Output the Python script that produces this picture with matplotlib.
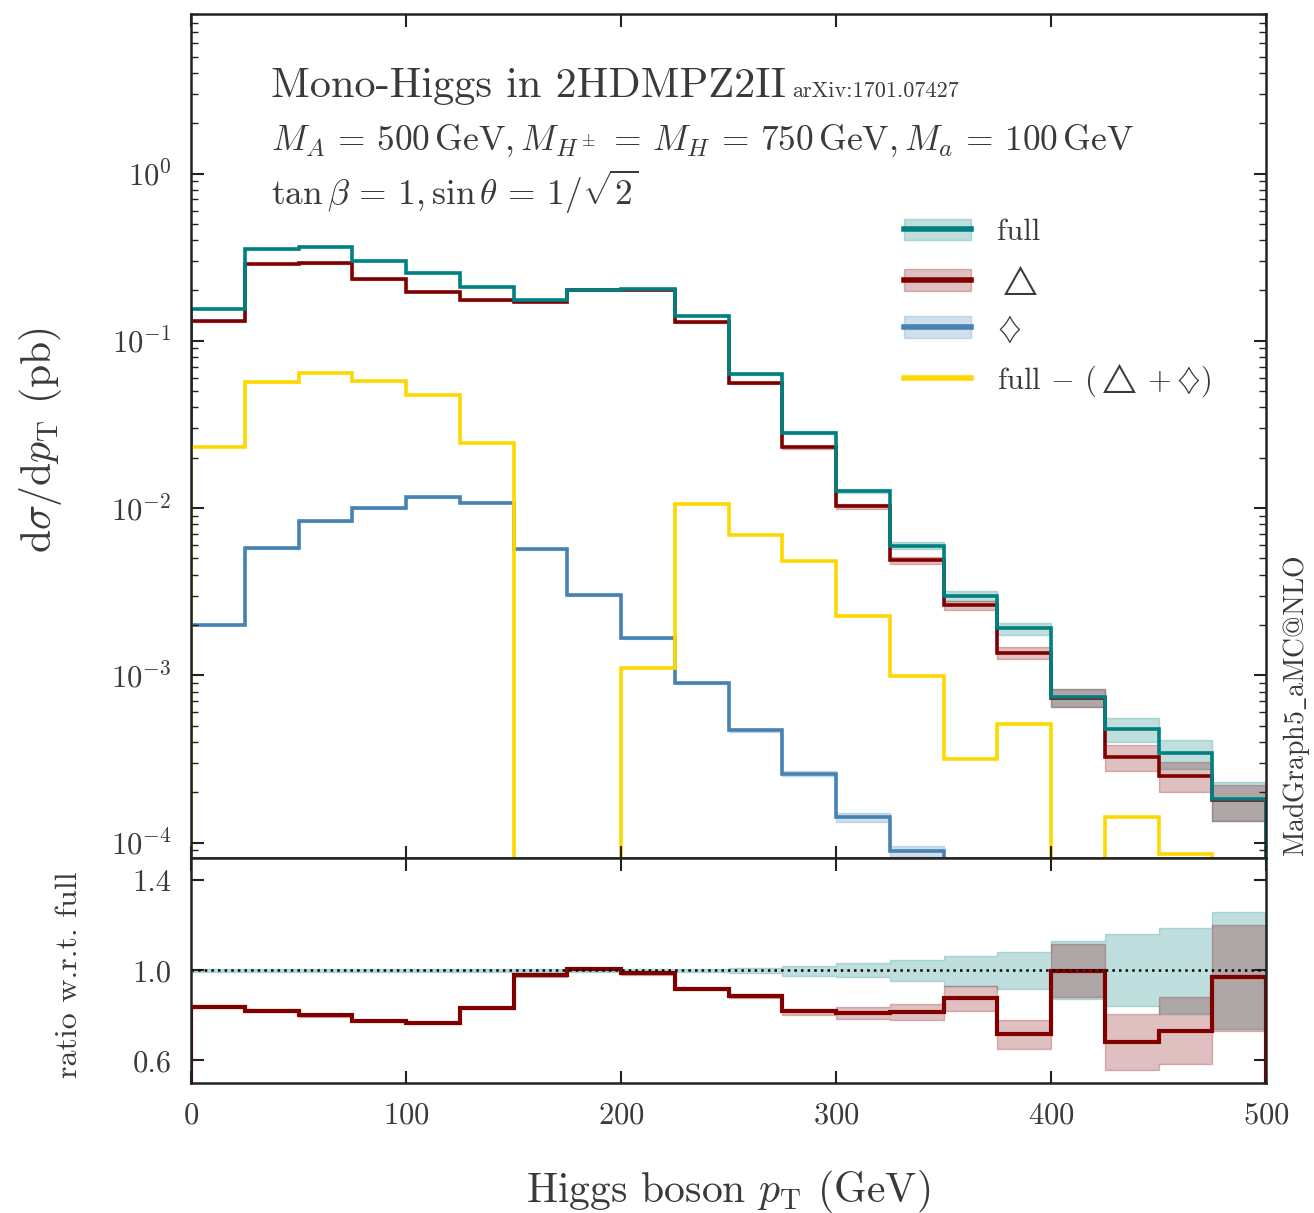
import numpy as np
import matplotlib
matplotlib.use('Agg')
import matplotlib.pyplot as plt
from matplotlib.patches import Patch
from matplotlib.lines import Line2D

# bin edges (GeV)
edges = np.arange(0, 525, 25)

# d sigma / d pT (pb)
full = [0.156, 0.352, 0.365, 0.302, 0.256, 0.210, 0.176, 0.201, 0.204, 0.141,
        0.063, 0.0283, 0.01265, 0.00597, 0.00299, 0.00191, 0.000738, 0.000479, 0.000344, 0.000183]
delta = [0.131, 0.288, 0.291, 0.234, 0.197, 0.176, 0.171, 0.201, 0.201, 0.130,
         0.0557, 0.0233, 0.01028, 0.00487, 0.00265, 0.00136, 0.000735, 0.000325, 0.000252, 0.000179]
diamond = [0.00201, 0.00575, 0.0084, 0.0100, 0.0116, 0.0108, 0.00567, 0.00302, 0.00168, 0.000903,
           0.00047, 0.000258, 0.000142, 8.87e-5, 5.5e-5, 3.5e-5, 2.0e-5, 1.3e-5, 8e-6, 5e-6]
# full - (delta + diamond); nan = not positive
rest = [0.0231, 0.057, 0.0643, 0.0573, 0.0474, 0.0245, np.nan, np.nan, 0.00111, 0.0106,
        0.00692, 0.00483, 0.00225, 0.000995, 0.000316, 0.000511, np.nan, 0.000142, 8.5e-5, np.nan]

# relative scale uncertainty of the diamond curve
diamond_unc = [0.01, 0.01, 0.01, 0.01, 0.01, 0.01, 0.01, 0.012, 0.012, 0.015,
               0.02, 0.035, 0.065, 0.08, 0.1, 0.1, 0.1, 0.1, 0.1, 0.1]

# ratio panel (w.r.t. full)
full_hi = [1.006, 1.005, 1.005, 1.005, 1.006, 1.006, 1.006, 1.006, 1.005, 1.006,
           1.013, 1.022, 1.031, 1.046, 1.064, 1.080, 1.130, 1.160, 1.190, 1.260]
full_lo = [0.994, 0.995, 0.995, 0.995, 0.994, 0.994, 0.994, 0.994, 0.995, 0.994,
           0.990, 0.976, 0.969, 0.954, 0.932, 0.919, 0.871, 0.840, 0.806, 0.740]
ratio_delta = [0.839, 0.821, 0.800, 0.775, 0.767, 0.833, 0.979, 1.006, 0.987, 0.917,
               0.887, 0.818, 0.810, 0.816, 0.876, 0.716, 0.997, 0.681, 0.732, 0.969]
delta_hi = [0.845, 0.827, 0.806, 0.781, 0.773, 0.839, 0.985, 1.012, 0.993, 0.923,
            0.895, 0.828, 0.839, 0.853, 0.932, 0.778, 1.117, 0.806, 0.883, 1.204]
delta_lo = [0.833, 0.815, 0.794, 0.769, 0.761, 0.827, 0.973, 1.000, 0.981, 0.911,
            0.876, 0.801, 0.784, 0.779, 0.819, 0.653, 0.880, 0.557, 0.584, 0.732]

plt.rcParams['font.family'] = 'serif'
plt.rcParams['font.serif'] = ['cmr10']
plt.rcParams['mathtext.fontset'] = 'cm'
plt.rcParams['axes.formatter.use_mathtext'] = True
plt.rcParams['axes.unicode_minus'] = False

tcol = '#3a3a3a'
c_full = '#008080'
c_delta = '#800000'
c_diam = '#4682b4'
c_rest = '#ffd700'
floor = 1e-9


def band(ax, lo, hi, color):
    lo = np.append(lo, lo[-1])
    hi = np.append(hi, hi[-1])
    ax.fill_between(edges, lo, hi, step='post', facecolor=color, alpha=0.25,
                    edgecolor=color, linewidth=1.0)


def style(ax):
    ax.tick_params(which='both', direction='in', top=True, right=True,
                   labelsize=22, labelcolor=tcol, color='#222222')
    ax.tick_params(which='major', length=9, width=1.5)
    ax.tick_params(which='minor', length=5, width=1.0)
    ax.tick_params(axis='y', pad=14)
    for s in ax.spines.values():
        s.set_linewidth(1.8)
        s.set_color('#222222')


fig = plt.figure(figsize=(13.14, 12.13), dpi=100)
ax1 = fig.add_axes([0.1454, 0.2927, 0.8181, 0.6958])
ax2 = fig.add_axes([0.1454, 0.1072, 0.8181, 0.1855])

full_a = np.array(full)
delta_a = np.array(delta)
diam_a = np.array(diamond)
rest_a = np.array(rest)

# top panel
band(ax1, full_a * np.array(full_lo), full_a * np.array(full_hi), c_full)
band(ax1, full_a * np.array(delta_lo), full_a * np.array(delta_hi), c_delta)
band(ax1, diam_a * (1 - np.array(diamond_unc)), diam_a * (1 + np.array(diamond_unc)), c_diam)

ax1.stairs(delta_a, edges, baseline=floor, color=c_delta, linewidth=2.6)
ax1.stairs(diam_a, edges, baseline=floor, color=c_diam, linewidth=2.6)
ax1.stairs(full_a, edges, baseline=floor, color=c_full, linewidth=2.6)
ax1.stairs(np.where(np.isnan(rest_a), floor, rest_a), edges, baseline=floor,
           color=c_rest, linewidth=2.6)

ax1.set_yscale('log')
ax1.set_xlim(0, 500)
ax1.set_ylim(8.1e-5, 9.0)
ax1.set_xticks([0, 100, 200, 300, 400, 500])
ax1.tick_params(labelbottom=False)
style(ax1)
ax1.set_ylabel(r'$\mathrm{d}\sigma/\mathrm{d}p_\mathrm{T}$ (pb)', fontsize=30, color=tcol)
ax1.yaxis.set_label_coords(-0.118, 0.495)

ax1.text(0.0744, 0.902, 'Mono-Higgs in 2HDMPZ2II', transform=ax1.transAxes,
         fontsize=30.5, color=tcol)
ax1.text(0.559, 0.902, 'arXiv:1701.07427', transform=ax1.transAxes,
         fontsize=16, color=tcol)
ax1.text(0.0744, 0.839,
         r'$M_A\,=\,500\,\mathrm{GeV}, M_{H^\pm}\,=\,M_H\,=\,750\,\mathrm{GeV}, M_a\,=\,100\,\mathrm{GeV}$',
         transform=ax1.transAxes, fontsize=25.5, color=tcol)
ax1.text(0.0744, 0.774, r'$\tan\beta\,=\,1, \sin\theta\,=\,1/\sqrt{2}$',
         transform=ax1.transAxes, fontsize=25.5, color=tcol)

handles = [
    (Patch(facecolor=c_full, alpha=0.25, edgecolor=c_full), Line2D([], [], color=c_full, lw=4)),
    (Patch(facecolor=c_delta, alpha=0.25, edgecolor=c_delta), Line2D([], [], color=c_delta, lw=4)),
    (Patch(facecolor=c_diam, alpha=0.25, edgecolor=c_diam), Line2D([], [], color=c_diam, lw=4)),
    Line2D([], [], color=c_rest, lw=4),
]
labels = ['full', r'$\triangle$', r'$\diamondsuit$', r'full $-$ $(\triangle + \diamondsuit)$']
leg = ax1.legend(handles, labels, loc='upper left', bbox_to_anchor=(0.652, 0.772),
                 frameon=False, fontsize=22, handlelength=2.2, handletextpad=0.85,
                 labelspacing=0.55, borderaxespad=0)
for t in leg.get_texts():
    t.set_color(tcol)

fig.text(0.987, 0.418, r'MadGraph5$\_$aMC@NLO', rotation=90, fontsize=20, color=tcol,
         ha='center', va='center', family=['cmr10', 'DejaVu Serif'])

# ratio panel
band(ax2, np.array(full_lo), np.array(full_hi), c_full)
band(ax2, np.array(delta_lo), np.array(delta_hi), c_delta)
ax2.stairs(ratio_delta, edges, baseline=0, color=c_delta, linewidth=3.0)
ax2.axhline(1.0, color='black', linestyle=':', linewidth=1.8)
ax2.set_xlim(0, 500)
ax2.set_ylim(0.5, 1.5)
ax2.set_xticks([0, 100, 200, 300, 400, 500])
ax2.set_yticks([0.6, 1.0, 1.4])
ax2.set_yticklabels(['0.6', '1.0', '1.4'])
style(ax2)
ax2.tick_params(axis='x', pad=14)
ax2.set_ylabel('ratio w.r.t. full', fontsize=23, color=tcol)
ax2.yaxis.set_label_coords(-0.1005, 0.48)
ax2.set_xlabel(r'Higgs boson $p_\mathrm{T}$ (GeV)', fontsize=30, color=tcol)
ax2.xaxis.set_label_coords(0.5, -0.38)

fig.savefig('out.png', dpi=100)
